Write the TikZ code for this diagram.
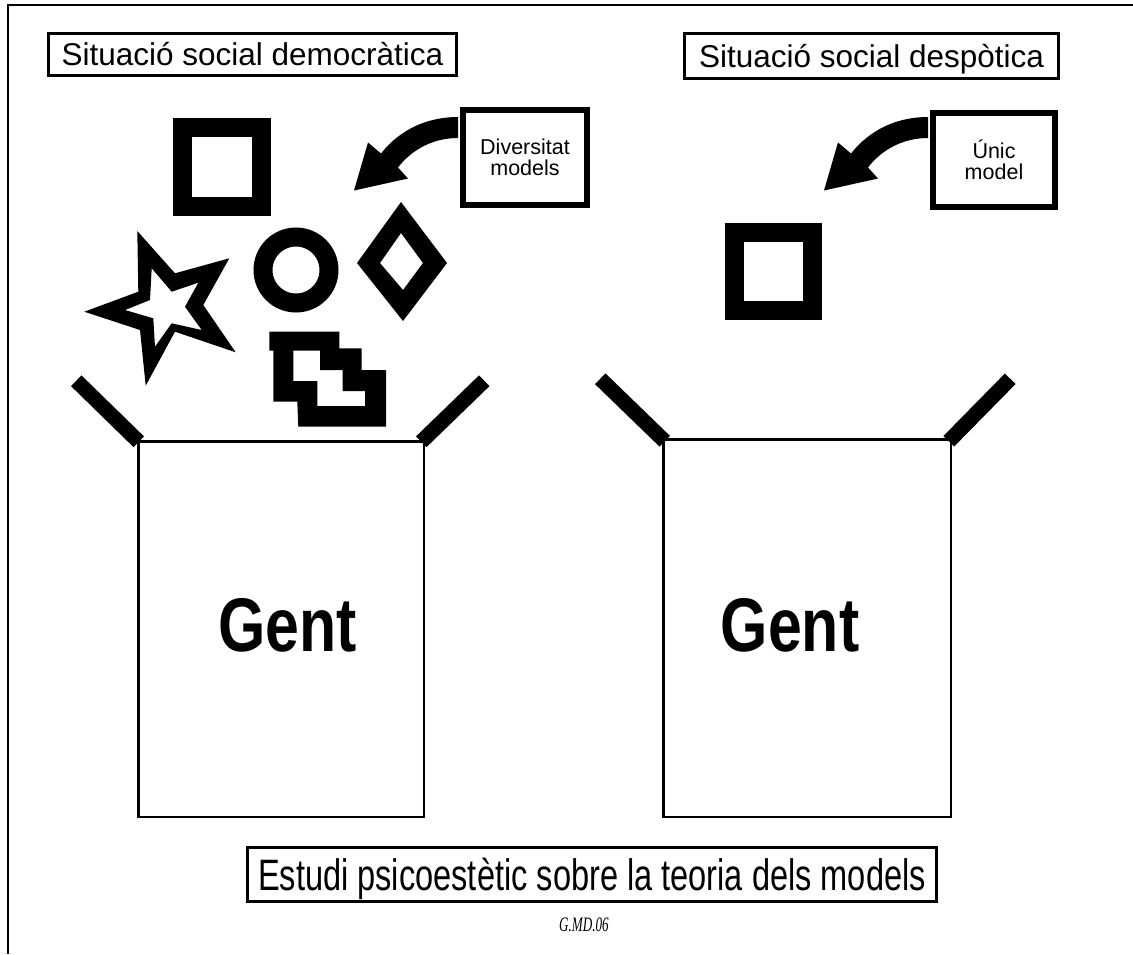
\documentclass[tikz,border=0pt]{standalone}
\usepackage{fontspec}
\setmainfont{Liberation Sans}
\newfontfamily\condfont[FakeStretch=0.74]{Liberation Sans}
\newfontfamily\gentfont[FakeStretch=0.8]{Liberation Sans}
\newfontfamily\codefont[FakeStretch=0.64]{Liberation Serif}
\usetikzlibrary{calc}
\begin{document}
\begin{tikzpicture}[x=1pt,y=-1pt,
  titlebox/.style={draw,line width=3pt,inner sep=0pt,font=\fontsize{31.5}{36}\selectfont,text height=22.7pt,text depth=0pt},
  modelbox/.style={draw,line width=6pt,inner sep=0pt,align=center,font=\fontsize{21.5}{20.5}\selectfont},
  gentbox/.style={draw,line width=2.5pt,inner sep=0pt},
  genttext/.style={inner sep=0pt,font=\gentfont\bfseries\fontsize{76}{80}\selectfont,text height=54.4pt,text depth=0pt},
  flap/.style={line width=15pt},
  thickshape/.style={line width=19pt},
  bigarrow/.style={fill=black}
]
\useasboundingbox (0,0) rectangle (1133,954);
\fill[white] (0,0) rectangle (1133,954);
\draw[line width=1.6pt] (8,954) -- (8,5) -- (1133,5);

% titles
\node[titlebox,minimum width=408pt,minimum height=42pt] (tL) at (252.5,54.5) {Situació social democràtica};
\node[titlebox,minimum width=374pt,minimum height=45pt] (tR) at (871.5,56) {Situació social despòtica};

% model boxes
\node[modelbox,minimum width=124pt,minimum height=95pt] (mL) at (525,157.5) {Diversitat\\models};
\node[modelbox,minimum width=122pt,minimum height=94pt] (mR) at (994,160) {Únic\\model};

% curved arrows
\fill[bigarrow,shift={(mL.west)}] (-2,-40.5) .. controls (-33,-40.5) and (-60,-28) .. (-79,-4) -- (-92,-15) -- (-106,33) -- (-52,21) -- (-62,10) .. controls (-49,-7) and (-28,-19.5) .. (-2,-19.5) -- cycle;
\fill[bigarrow,shift={(mR.west)}] (-2,-43) .. controls (-33,-43) and (-60,-30.5) .. (-79,-6.5) -- (-92,-17.5) -- (-106,30.5) -- (-52,18.5) -- (-62,7.5) .. controls (-49,-9.5) and (-28,-22) .. (-2,-22) -- cycle;

% Gent boxes
\node[gentbox,minimum width=285.5pt,minimum height=375.5pt] (gL) at (281,629) {};
\node[gentbox,minimum width=287.5pt,minimum height=377.5pt] (gR) at (807,628) {};
\node[genttext] (gentL) at (287.5,624) {Gent};
\node[genttext] (gentR) at (790,624) {Gent};

% flaps
\draw[flap] ($(gL.north west)+(1.75,1.75)$) -- ++(-62.5,-61);
\draw[flap] ($(gL.north east)+(-3.75,1.75)$) -- ++(63,-61);
\draw[flap] ($(gR.north west)+(2.75,3.25)$) -- ++(-64.5,-62.5);
\draw[flap] ($(gR.north east)+(-3.25,3.25)$) -- ++(61.5,-62.5);

% left models
\draw[thickshape] (182.5,127.5) rectangle (261.5,206.5);
\draw[thickshape] (296,270) circle[radius=33];
\fill[even odd rule] (401,202) -- (447,263) -- (403,321) -- (357,263) -- cycle
  (401,233) -- (423,263) -- (403,290) -- (380,263) -- cycle;
\fill[even odd rule] (137.3,231) -- (175,273.3) -- (229.3,258.3) -- (203.3,305) -- (235.7,352.3) -- (175,331.7) -- (145.7,385.7) -- (140,330) -- (84.3,311.7) -- (138.3,291.7) -- cycle
  (151.7,268.3) -- (171.7,291.7) -- (198.3,282.7) -- (185,306.7) -- (201.7,330) -- (171.7,323.3) -- (155,346.7) -- (153.3,318.3) -- (125,310) -- (150,300) -- cycle;
\fill[even odd rule] (269.3,331.7) -- (339.3,331.7) -- (339.3,348.3) -- (361.7,348.3) -- (361.7,370) -- (386,370) -- (386,426.7) -- (298.3,426.7) -- (297.3,401.7) -- (273.3,401.7) -- (273.3,350.7) -- (269.3,350.7) -- cycle
  (293.3,350.7) -- (320,350.7) -- (320,370) -- (342.7,370) -- (342.7,391) -- (365,391) -- (365,406) -- (317.3,406) -- (317.3,381) -- (293.3,381) -- cycle;

% right model
\draw[thickshape] (734.5,232.5) rectangle (812.5,310.5);

% bottom
\node[draw,line width=3pt,inner sep=0pt,minimum width=689pt,minimum height=54pt,font=\condfont\fontsize{44}{50}\selectfont,text height=31.5pt,text depth=0pt] (bottom) at (592,874.5) {Estudi psicoestètic sobre la teoria dels models};
\node[font=\codefont\itshape\fontsize{20.5}{24}\selectfont] (code) at (584,925) {G.MD.06};
\end{tikzpicture}
\end{document}
